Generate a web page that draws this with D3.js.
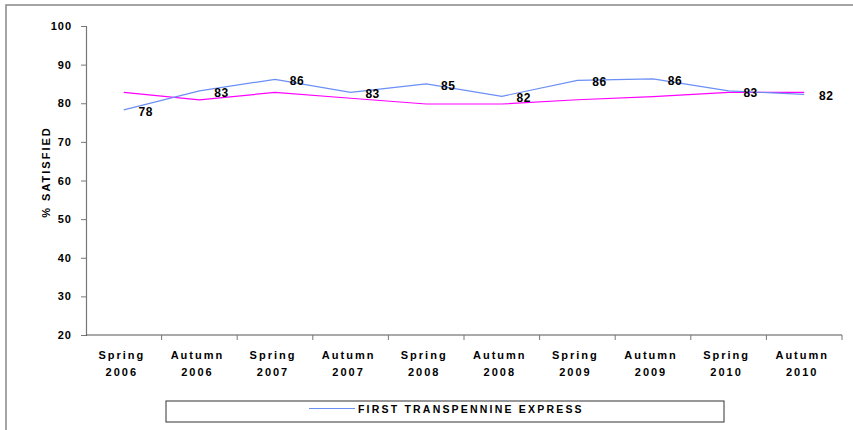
<!DOCTYPE html>
<html>
<head>
<meta charset="utf-8">
<script src="https://cdn.jsdelivr.net/npm/d3@7"></script>
<style>
  body { margin: 0; background: #fff; overflow: hidden; }
  text { font-family: "Liberation Sans", Arial, sans-serif; font-weight: bold; fill: #000; }
</style>
</head>
<body>
<script>

// data
var periods = ["Spring 2006", "Autumn 2006", "Spring 2007", "Autumn 2007", "Spring 2008",
               "Autumn 2008", "Spring 2009", "Autumn 2009", "Spring 2010", "Autumn 2010"];
var tpeValues = [78.3, 83.2, 86.2, 82.8, 85.0, 81.8, 85.9, 86.3, 83.2, 82.3];
var tpeLabels = [78, 83, 86, 83, 85, 82, 86, 86, 83, 82];
var compareValues = [82.8, 80.9, 82.8, 81.3, 79.8, 79.8, 80.9, 81.7, 82.8, 82.8];
var yTicks = [20, 30, 40, 50, 60, 70, 80, 90, 100];
var seriesName = "FIRST TRANSPENNINE EXPRESS";

var W = 853, H = 430;
var margin = {top: 26, left: 86, right: 11, bottom: 95};

var svg = d3.select("body").append("svg")
  .attr("width", W)
  .attr("height", H);

// outer frame (top and left edges visible)
svg.append("rect")
  .attr("x", 6).attr("y", 5)
  .attr("width", 900).attr("height", 440)
  .attr("fill", "none")
  .attr("stroke", "#888")
  .attr("stroke-width", 1.5);

var x = d3.scaleBand().domain(periods).range([margin.left, W - margin.right]);
var y = d3.scaleLinear().domain([20, 100]).range([H - margin.bottom, margin.top]);

// y axis
var yAxis = svg.append("g")
  .attr("transform", "translate(" + margin.left + ",0)")
  .call(d3.axisLeft(y).tickValues(yTicks).tickSize(5).tickPadding(9));
yAxis.select(".domain").attr("stroke", "#777").attr("stroke-width", 1.2);
yAxis.selectAll(".tick line").attr("stroke", "#777");
yAxis.selectAll("text")
  .style("font-size", "11px")
  .style("font-family", "'Liberation Sans', Arial, sans-serif")
  .style("font-weight", "bold")
  .style("letter-spacing", "1px");

// x axis with ticks on band edges
var xAxisG = svg.append("g")
  .attr("transform", "translate(0," + (H - margin.bottom) + ")");
xAxisG.append("line")
  .attr("x1", margin.left).attr("x2", W - margin.right)
  .attr("stroke", "#555").attr("stroke-width", 1.2);
var edges = periods.map(function(p) { return x(p); }).concat([x.range()[1]]);
xAxisG.selectAll(".edge")
  .data(edges.slice(1))
  .enter().append("line")
  .attr("x1", function(d) { return d; })
  .attr("x2", function(d) { return d; })
  .attr("y1", 0).attr("y2", 5)
  .attr("stroke", "#777");

var xl = xAxisG.selectAll(".xlab")
  .data(periods)
  .enter().append("text")
  .attr("text-anchor", "middle")
  .attr("transform", function(d) { return "translate(" + (x(d) + x.bandwidth() / 2 - 2) + ",0)"; })
  .style("font-size", "11px")
  .style("letter-spacing", "2px");
xl.append("tspan").attr("x", 0).attr("y", 24).text(function(d) { return d.split(" ")[0]; });
xl.append("tspan").attr("x", 0).attr("y", 41).text(function(d) { return d.split(" ")[1]; });

// y axis title
svg.append("text")
  .attr("transform", "translate(50,172) rotate(-90)")
  .attr("text-anchor", "middle")
  .style("font-size", "11px")
  .style("letter-spacing", "2px")
  .text("% SATISFIED");

var line = d3.line()
  .x(function(d, i) { return x(periods[i]) + x.bandwidth() / 2; })
  .y(function(d) { return y(d); });

svg.append("path")
  .datum(compareValues)
  .attr("d", line)
  .attr("fill", "none")
  .attr("stroke", "#ff00ff")
  .attr("stroke-width", 1.2);

svg.append("path")
  .datum(tpeValues)
  .attr("d", line)
  .attr("fill", "none")
  .attr("stroke", "#6b8ff5")
  .attr("stroke-width", 1.2);

// data labels
svg.selectAll(".dlab")
  .data(tpeLabels)
  .enter().append("text")
  .attr("x", function(d, i) { return x(periods[i]) + x.bandwidth() / 2 + 22; })
  .attr("y", function(d, i) { return y(tpeValues[i]) + 6; })
  .attr("text-anchor", "middle")
  .style("font-size", "12px")
  .style("letter-spacing", "0.5px")
  .text(function(d) { return d; });

// legend
var lg = svg.append("g").attr("transform", "translate(166,401)");
lg.append("rect")
  .attr("width", 558).attr("height", 21)
  .attr("fill", "#fff").attr("stroke", "#333");
lg.append("line")
  .attr("x1", 143).attr("x2", 189).attr("y1", 7.5).attr("y2", 7.5)
  .attr("stroke", "#6b8ff5").attr("stroke-width", 1.2);
lg.append("text")
  .attr("x", 192).attr("y", 12)
  .style("font-size", "10.5px")
  .style("letter-spacing", "2.2px")
  .text(seriesName);

</script>
</body>
</html>
